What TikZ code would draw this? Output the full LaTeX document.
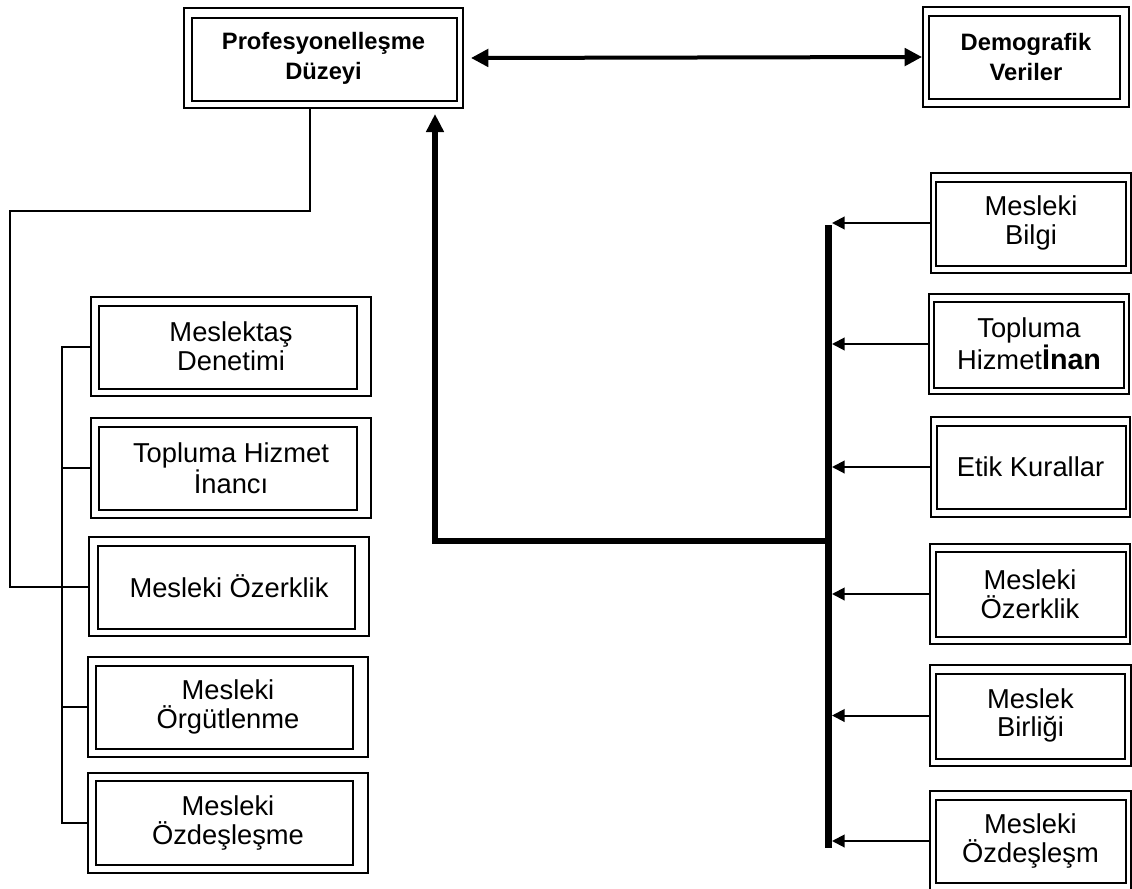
\documentclass[tikz,border=0pt]{standalone}
\usepackage{fontspec}
\setmainfont{Liberation Sans}
\usetikzlibrary{calc,arrows.meta}
\newdimen\pxu \pxu=0.75pt
\tikzset{
  obox/.style={draw, line width=1.5pt, inner sep=0pt, align=center,
    font=\fontsize{20.5}{21.5}\selectfont},
  tbox/.style={obox, font=\bfseries\fontsize{17.8}{22.5}\selectfont},
  ibox/.style={draw, line width=1.4pt},
  conn/.style={draw, line width=1.5pt},
  harrow/.style={draw, line width=1.5pt, -{Triangle[length=9.5pt,width=9.5pt]}},
}
\newcommand{\dbox}[8][obox]{%
  % #2 name, #3 x1, #4 y1, #5 x2, #6 y2, #7 inner insets "l/t/r/b", #8 text
  \node[#1, minimum width=#5\pxu-#3\pxu, minimum height=#6\pxu-#4\pxu]
     (#2) at ({(#3+#5)/2},{(#4+#6)/2}) {#8};
  \foreach \l/\t/\r/\b in {#7}{
    \draw[ibox] ($(#2.north west)+(\l,\t)$) rectangle ($(#2.south east)+(-\r,-\b)$);
  }%
}
\begin{document}
\begin{tikzpicture}[x=0.75pt,y=-0.75pt]
\useasboundingbox (0,0) rectangle (1132,889);

% top boxes
\dbox[tbox]{P}{184}{8}{463}{108}{9/11/7/8}{Profesyonelleşme\\Düzeyi}
\dbox[tbox]{D}{923}{7}{1129}{107}{7/10/10/9}{Demografik\\Veriler}

% left boxes
\dbox{L1}{91}{297}{371}{396}{9/10/15/8}{Meslektaş\\Denetimi}
\dbox{L2}{91}{418}{371}{518}{9/10/15/9}{Topluma Hizmet\\İnancı}
\dbox{L3}{89}{537}{369}{636}{10/10/15/8}{Mesleki Özerklik}
\dbox{L4}{88}{657}{368}{757}{9/10/16/9}{Mesleki\\Örgütlenme}
\dbox{L5}{88}{773}{368}{873}{9/9/16/9}{Mesleki\\Özdeşleşme}

% right boxes
\dbox{R1}{931}{173}{1131}{273}{6/10/6/8}{Mesleki\\Bilgi}
\dbox{R2}{929}{294}{1129}{394}{6/9/6/7}{Topluma\\Hizmet{\bfseries\fontsize{21.5}{21.5}\selectfont İnan}}
\dbox{R3}{931}{417}{1130}{517}{7/10/5/9}{Etik Kurallar}
\dbox{R4}{930}{544}{1130}{644}{7/9/5/8}{Mesleki\\Özerklik}
\dbox{R5}{930}{665}{1131}{766}{7/10/7/8}{Meslek\\Birliği}
\dbox{R6}{930}{791}{1131}{891}{7/10/6/9}{Mesleki\\Özdeşleşm}

% double arrow between top boxes
\draw[line width=3pt, {Triangle[length=13pt,width=13pt]}-{Triangle[length=13pt,width=13pt]}]
  ($(P.east)+(7,0)$) -- (D.west);

% left connector from P to the left bus
\coordinate (c1) at (310,211);
\coordinate (c2) at (10,211);
\draw[conn] (P.south -| c1) -- (c1) -- (c2) |- (L3.west);

% left bus
\coordinate (bus) at (62,0);
\draw[conn] (L1.west) -- (L1.west -| bus) -- (L5.west -| bus) -- (L5.west);
\draw[conn] (L2.west) -- (L2.west -| bus);
\draw[conn] (L4.west) -- (L4.west -| bus);

% right thick bar
\coordinate (bt) at (828,225);
\coordinate (bb) at (828,848);
\draw[line width=5.25pt] (bt) -- (bb);
\coordinate (br) at (832,0);
\foreach \n in {R1,R2,R3,R4,R5,R6}{
  \draw[harrow] (\n.west) -- (\n.west -| br);
}

% thick path from bar to P
\coordinate (j) at (828,541);
\coordinate (k) at (435,541);
\draw[line width=4.5pt, -{Triangle[length=13.5pt,width=12.75pt]}]
  (j) -- (k) -- ($(P.south -| k)+(0,5)$);
\end{tikzpicture}
\end{document}
